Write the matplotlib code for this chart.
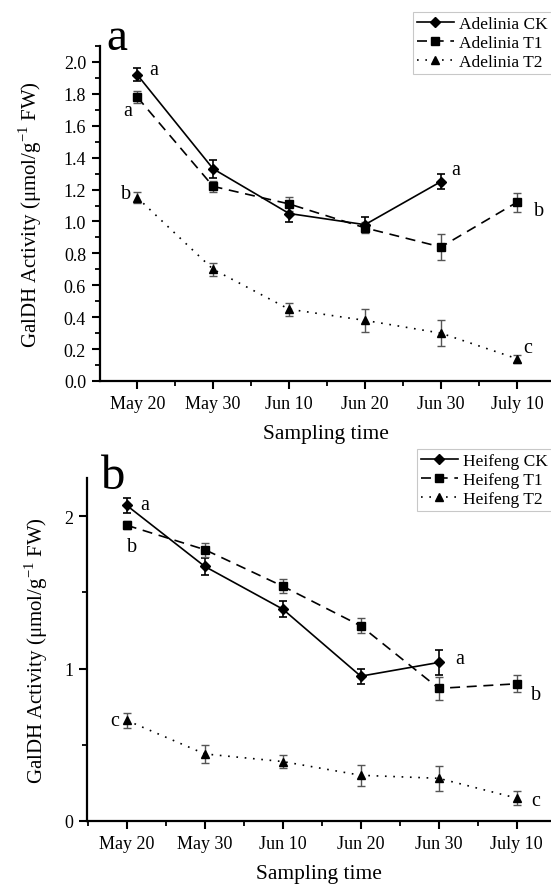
import numpy as np
import matplotlib
matplotlib.use("Agg")
import matplotlib.pyplot as plt
from matplotlib.ticker import MultipleLocator, FormatStrFormatter

plt.rcParams["font.family"] = ["Liberation Serif", "DejaVu Serif"]
plt.rcParams["mathtext.fontset"] = "custom"
plt.rcParams["mathtext.rm"] = "Liberation Serif"

dates = ["May 20", "May 30", "Jun 10", "Jun 20", "Jun 30", "July 10"]

# Adelinia (panel a)
ade_ck = [1.92, 1.33, 1.05, 0.98, 1.25]
ade_ck_err = [0.04, 0.055, 0.055, 0.045, 0.045]
ade_t1 = [1.78, 1.22, 1.11, 0.96, 0.84, 1.12]
ade_t1_err = [0.04, 0.035, 0.045, 0.035, 0.08, 0.06]
ade_t2 = [1.15, 0.70, 0.45, 0.38, 0.30, 0.14]
ade_t2_err = [0.035, 0.04, 0.04, 0.07, 0.08, 0.025]

# Heifeng (panel b)
hei_ck = [2.07, 1.67, 1.39, 0.95, 1.04]
hei_ck_err = [0.05, 0.055, 0.053, 0.05, 0.085]
hei_t1 = [1.94, 1.78, 1.54, 1.28, 0.87, 0.90]
hei_t1_err = [0.025, 0.045, 0.045, 0.05, 0.075, 0.055]
hei_t2 = [0.66, 0.44, 0.39, 0.30, 0.28, 0.15]
hei_t2_err = [0.05, 0.058, 0.045, 0.068, 0.08, 0.045]

# significance letters: (series, index, letter, dx pt, dy pt)
ade_letters = [("ck", 0, "a", 12, 4), ("t1", 0, "a", -7, -10), ("t2", 0, "b", -8, 3),
               ("ck", 4, "a", 11, 9), ("t1", 5, "b", 16, -6), ("t2", 5, "c", 8, 8)]
hei_letters = [("ck", 0, "a", 13, 1), ("t1", 0, "b", 4, -15), ("t2", 0, "c", -9, 0),
               ("ck", 4, "a", 15, 3), ("t1", 5, "b", 14, -8), ("t2", 5, "c", 14, -2)]

W, H = 551, 887
fig = plt.figure(figsize=(W / 100, H / 100), dpi=100)
ax1 = fig.add_axes([100 / W, 1 - 382 / H, 451 / W, 335 / H])
ax2 = fig.add_axes([87 / W, 1 - 822 / H, 464 / W, 343 / H])


def draw(ax, name, ck, ck_e, t1, t1_e, t2, t2_e, letters):
    x = np.arange(len(dates))
    vals = {"ck": ck, "t1": t1, "t2": t2}
    c1 = ax.errorbar(x[:len(ck)], ck, yerr=ck_e, color="black", lw=1.2, ls="-",
                     marker="D", ms=5.5, ecolor="black", elinewidth=1.2, capsize=3,
                     capthick=1.2)
    c2 = ax.errorbar(x, t1, yerr=t1_e, color="black", lw=1.2, ls=(0, (6, 4)),
                     marker="s", ms=5.5, ecolor="#555555", elinewidth=1.0, capsize=3,
                     capthick=1.0)
    c3 = ax.errorbar(x, t2, yerr=t2_e, color="black", lw=1.2, ls=(0, (1, 4)),
                     marker="^", ms=6, ecolor="#555555", elinewidth=1.0, capsize=3,
                     capthick=1.0)
    for s, i, lab, dx, dy in letters:
        ax.annotate(lab, (x[i], vals[s][i]), xytext=(dx, dy), textcoords="offset points",
                    ha="center", va="center", fontsize=14.5)
    ax.set_xticks(x)
    ax.set_xticklabels(dates)
    ax.xaxis.set_minor_locator(MultipleLocator(0.5))
    for sp in ["top", "right"]:
        ax.spines[sp].set_visible(False)
    for sp in ["left", "bottom"]:
        ax.spines[sp].set_linewidth(1.6)
    ax.tick_params(which="major", direction="out", length=6, width=1.5,
                   labelsize=13, pad=4)
    ax.tick_params(which="minor", direction="out", length=3.5, width=1.3)
    ax.set_xlabel("Sampling time", fontsize=15.5, labelpad=9)
    handles = [c1.lines[0], c2.lines[0], c3.lines[0]]
    labels = [name + " CK", name + " T1", name + " T2"]
    return handles, labels


h1, l1 = draw(ax1, "Adelinia", ade_ck, ade_ck_err, ade_t1, ade_t1_err, ade_t2,
              ade_t2_err, ade_letters)
ax1.set_xlim(-0.49, 5.45)
ax1.yaxis.set_major_locator(MultipleLocator(0.2))
ax1.yaxis.set_minor_locator(MultipleLocator(0.1))
ax1.set_ylim(0, 2.1)
ax1.yaxis.set_major_formatter(FormatStrFormatter("%.1f"))
ax1.set_ylabel(r"GalDH Activity (μmol/g$^{-1}$ FW)", fontsize=15, labelpad=14)

h2, l2 = draw(ax2, "Heifeng", hei_ck, hei_ck_err, hei_t1, hei_t1_err, hei_t2,
              hei_t2_err, hei_letters)
ax2.set_xlim(-0.51, 5.44)
ax2.set_ylim(0, 2.25)
ax2.yaxis.set_major_locator(MultipleLocator(1))
ax2.yaxis.set_minor_locator(MultipleLocator(0.5))
ax2.set_ylabel(r"GalDH Activity (μmol/g$^{-1}$ FW)", fontsize=15, labelpad=10)

fig.text(117 / W, 1 - 39 / H, "a", fontsize=34, ha="center", va="center")
fig.text(113 / W, 1 - 477 / H, "b", fontsize=35, ha="center", va="center")

for ax, hs, ls_, top in [(ax1, h1, l1, 13), (ax2, h2, l2, 450)]:
    leg = ax.legend(hs, ls_, loc="upper right", bbox_to_anchor=(552 / W, 1 - top / H),
                    bbox_transform=fig.transFigure, fontsize=12.5, frameon=True,
                    fancybox=False, edgecolor="#bbbbbb", handlelength=2.1,
                    borderpad=0.25, labelspacing=0.15, handletextpad=0.3,
                    borderaxespad=0)
    leg.get_frame().set_linewidth(0.8)

fig.savefig("out.png", dpi=100)
